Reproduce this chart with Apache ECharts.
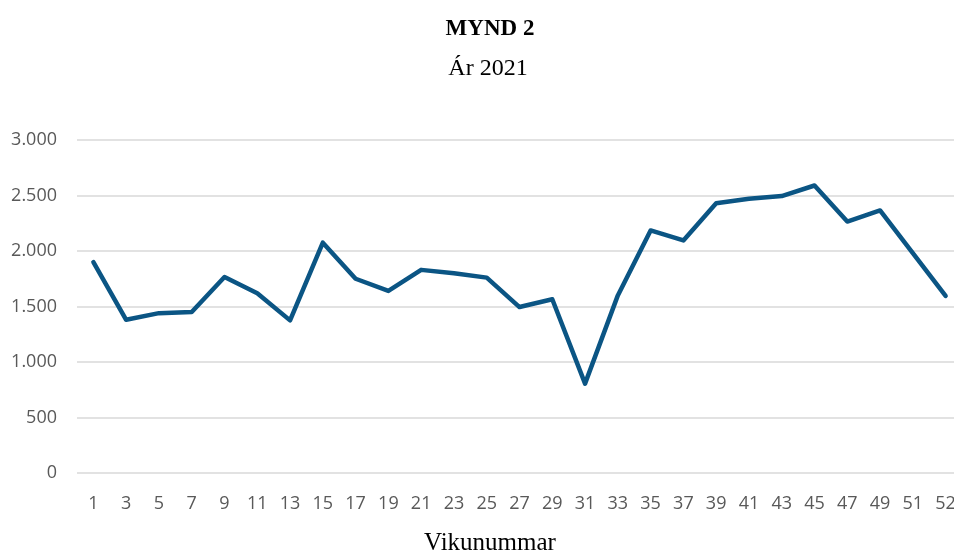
<!DOCTYPE html>
<html><head><meta charset="utf-8">
<script src="https://cdn.jsdelivr.net/npm/echarts@6/dist/echarts.min.js"></script>
<style>html,body{margin:0;padding:0;background:#fff;overflow:hidden}#c{width:954px;height:550px}</style>
</head><body><div id="c"></div>
<script>
const weeks = ['1','3','5','7','9','11','13','15','17','19','21','23','25','27','29','31','33','35','37','39','41','43','45','47','49','51','52'];
const values = [1900,1380,1440,1450,1765,1620,1375,2075,1750,1640,1830,1800,1760,1495,1565,805,1600,2185,2095,2430,2470,2495,2590,2265,2365,1980,1595];
const yTicks = [0,500,1000,1500,2000,2500,3000];

const chart = echarts.init(document.getElementById('c'));
const axisFont = '"Open Sans","Liberation Sans",sans-serif';
const serif = '"Liberation Serif","DejaVu Serif",serif';
chart.setOption({
  animation:false,
  title:[
    {text:'MYND 2',left:485,textAlign:'center',top:13,textStyle:{fontFamily:serif,fontWeight:'bold',fontSize:23,color:'#000'}},
    {text:'Ár 2021',left:483,textAlign:'center',top:52,textStyle:{fontFamily:serif,fontWeight:'normal',fontSize:24,color:'#000'}},
    {text:'Vikunummar',left:485,textAlign:'center',top:526,textStyle:{fontFamily:serif,fontWeight:'normal',fontSize:25,color:'#000'}}
  ],
  grid:{left:77,top:140,width:885,height:333,containLabel:false,outerBoundsMode:'none'},
  xAxis:{
    type:'category',data:weeks,boundaryGap:true,
    axisLine:{show:false},axisTick:{show:false},
    axisLabel:{interval:0,margin:22,fontFamily:axisFont,fontSize:18,color:'#595959'}
  },
  yAxis:{
    type:'value',min:0,max:3000,interval:500,
    axisLine:{show:false},axisTick:{show:false},
    splitLine:{lineStyle:{color:'#d9d9d9',width:1.5}},
    axisLabel:{margin:20,fontFamily:axisFont,fontSize:18,color:'#595959',
      formatter:v=>String(v).replace(/\B(?=(\d{3})+(?!\d))/g,'.')}
  },
  series:[{type:'line',data:values,symbol:'none',lineStyle:{color:'#0b5584',width:4.5,cap:'round',join:'round'}}]
});
</script></body></html>
